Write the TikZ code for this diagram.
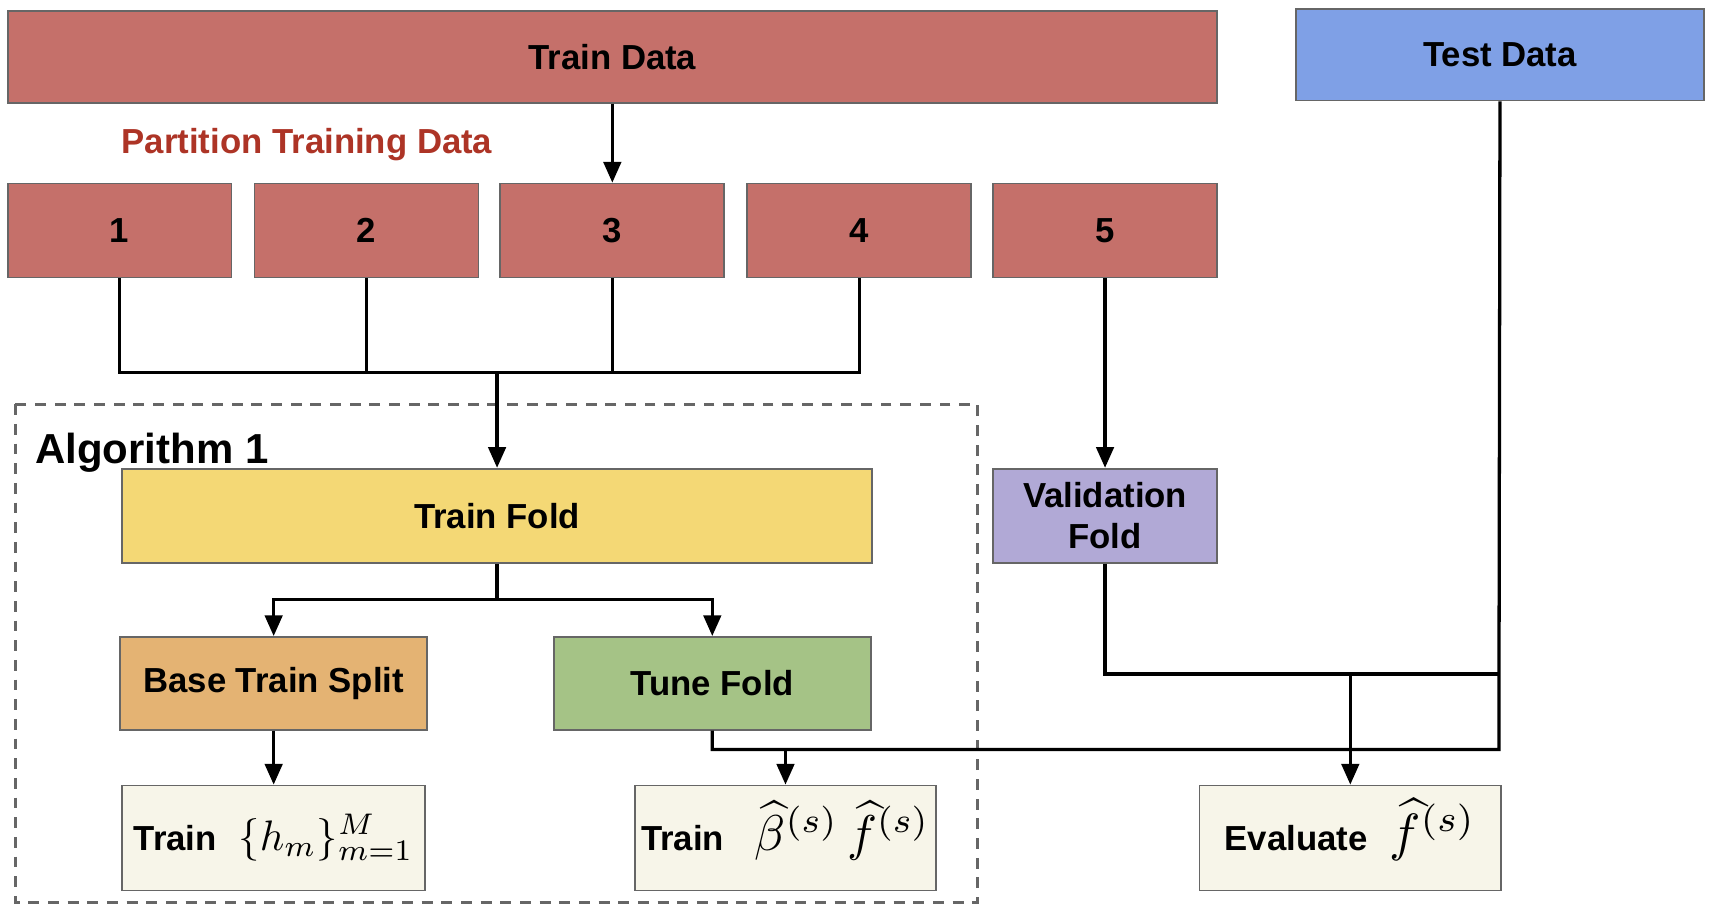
\documentclass[tikz,border=0pt]{standalone}
\usepackage{graphicx}
\usepackage{fontspec}
\setmainfont{Liberation Sans}
\usetikzlibrary{arrows.meta}

\definecolor{traincol}{RGB}{197,112,106}
\definecolor{testcol}{RGB}{127,160,230}
\definecolor{partcol}{RGB}{173,52,38}
\definecolor{foldcol}{RGB}{244,216,117}
\definecolor{valcol}{RGB}{177,169,214}
\definecolor{basecol}{RGB}{228,179,115}
\definecolor{tunecol}{RGB}{165,195,134}
\definecolor{outcol}{RGB}{247,245,233}
\definecolor{edgegray}{RGB}{102,102,102}

% math at 10pt, scaled up
\newcommand{\mathbig}[2]{{\fontsize{10}{12}\selectfont\smash{\scalebox{#1}{$#2$}}}}

\begin{document}
\begin{tikzpicture}[x=0.5pt,y=-0.5pt,
  blk/.style={shape=rectangle,draw=edgegray,line width=0.8pt,inner sep=0pt,
    font=\fontsize{15.9}{18.5}\selectfont\bfseries},
  link/.style={line width=1.5pt},
  >={Triangle[length=9.5pt,width=8pt]}]
  \useasboundingbox (0,0) rectangle (1568,837);
  % data
  \node[blk,fill=traincol,minimum width=553.5pt,minimum height=42pt] (train) at (560.5,52) {Train Data};
  \node[blk,fill=testcol,minimum width=187pt,minimum height=42pt] (test) at (1373,50) {Test Data};
  \node[font=\fontsize{15.9}{18.5}\selectfont\bfseries,text=partcol] (part) at (281,132) {Partition Training Data};
  \node[blk,fill=traincol,minimum width=102.5pt,minimum height=43pt] (b1) at (109.5,211) {1};
  \node[blk,fill=traincol,minimum width=102.5pt,minimum height=43pt] (b2) at (335.5,211) {2};
  \node[blk,fill=traincol,minimum width=102.5pt,minimum height=43pt] (b3) at (560.5,211) {3};
  \node[blk,fill=traincol,minimum width=102.5pt,minimum height=43pt] (b4) at (786.5,211) {4};
  \node[blk,fill=traincol,minimum width=102.5pt,minimum height=43pt] (b5) at (1011.5,211) {5};
  % algorithm 1
  \draw[edgegray,line width=1.3pt,dash pattern=on 5pt off 4pt] (14,370) rectangle (895,826);
  \node[anchor=base west,inner sep=0pt,font=\fontsize{19.2}{22}\selectfont\bfseries] (algo) at (32,424) {Algorithm 1};
  \node[blk,fill=foldcol,minimum width=343pt,minimum height=43pt] (tf) at (455,472) {Train Fold};
  \node[blk,fill=valcol,minimum width=102.5pt,minimum height=43pt,align=center] (vf) at (1011.5,472) {Validation\\Fold};
  \node[blk,fill=basecol,minimum width=140.5pt,minimum height=42.5pt] (bts) at (250.5,625.5) {Base Train Split};
  \node[blk,fill=tunecol,minimum width=145pt,minimum height=42.5pt] (tune) at (652,625.5) {Tune Fold};
  \node[blk,fill=outcol,minimum width=138.5pt,minimum height=48pt] (trh) at (250.5,767) {Train\hspace{10pt}\mathbig{1.95}{\{h_m\}_{m=1}^{M}}};
  \node[blk,fill=outcol,minimum width=138pt,minimum height=48pt] (trb) at (719,767) {Train\hspace{14pt}\mathbig{2.3}{\widehat{\beta}^{(s)}\,\widehat{f}^{(s)}}};
  \node[blk,fill=outcol,minimum width=138pt,minimum height=48pt] (ev) at (1236,767) {Evaluate\hspace{10pt}\mathbig{2.4}{\widehat{f}^{(s)}}};
  % junctions
  \coordinate (jn) at (455,341);
  \coordinate (js) at (455,549);
  \coordinate (jv) at (1372,617);
  \coordinate (jt) at (1372,686);
  % connectors
  \draw[link,->] (train.south) -- (b3.north);
  \draw[link] (b1.south) |- (b4.south |- jn) -- (b4.south);
  \draw[link] (b2.south) -- (b2.south |- jn);
  \draw[link] (b3.south) -- (b3.south |- jn);
  \draw[link,->] (jn) -- (tf.north);
  \draw[link,->] (b5.south) -- (vf.north);
  \draw[link] (tf.south) -- (js);
  \draw[link,->] (js) -| (bts.north);
  \draw[link,->] (js) -| (tune.north);
  \draw[link,->] (bts.south) -- (trh.north);
  \draw[link] (tune.south) |- (jt) -- (test.south);
  \draw[link,->] (trb.north |- jt) -- (trb.north);
  \draw[link] (vf.south) |- (jv);
  \draw[link,->] (ev.north |- jv) -- (ev.north);
\end{tikzpicture}
\end{document}
